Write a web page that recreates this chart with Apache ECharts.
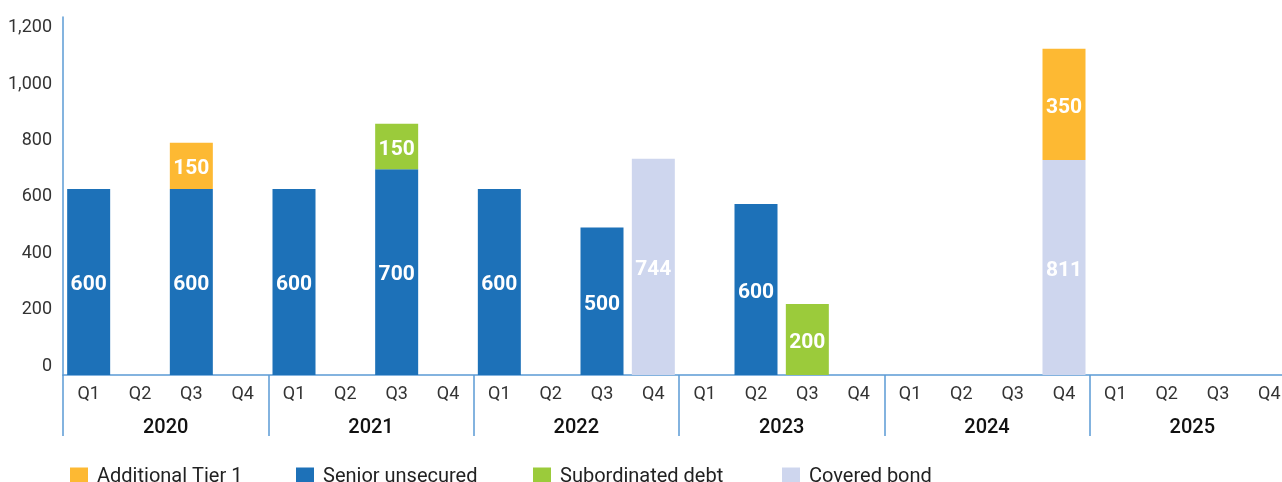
<!DOCTYPE html>
<html>
<head>
<meta charset="utf-8">
<script src="https://cdn.jsdelivr.net/npm/echarts@6/dist/echarts.min.js"></script>
<style>
html,body{margin:0;padding:0;background:#fff;overflow:hidden;width:1282px;height:482px;}
#chart{width:1300px;height:482px;}
</style>
</head>
<body>
<div id="chart"></div>
<script>
const quarters = ['Q1','Q2','Q3','Q4','Q1','Q2','Q3','Q4','Q1','Q2','Q3','Q4','Q1','Q2','Q3','Q4','Q1','Q2','Q3','Q4','Q1','Q2','Q3','Q4'];
const years = ['2020','2021','2022','2023','2024','2025'];
const yTicks = [0,200,400,600,800,1000,1200];

// bar heights as plotted against the axis
const seniorValues  = [660,null,660,null, 660,null,730,null, 660,null,523,null, null,607,null,null, null,null,null,null, null,null,null,null];
const coveredValues = [null,null,null,null, null,null,null,null, null,null,null,767, null,null,null,null, null,null,null,763, null,null,null,null];
const subValues     = [null,null,null,null, null,null,161,null, null,null,null,null, null,null,252,null, null,null,null,null, null,null,null,null];
const at1Values     = [null,null,164,null, null,null,null,null, null,null,null,null, null,null,null,null, null,null,null,394, null,null,null,null];

// printed amounts
const seniorLabels  = ['600','','600','', '600','','700','', '600','','500','', '','600','','', '','','','', '','','',''];
const coveredLabels = ['','','','', '','','','', '','','','744', '','','','', '','','','811', '','','',''];
const subLabels     = ['','','','', '','','150','', '','','','', '','','200','', '','','','', '','','',''];
const at1Labels     = ['','','150','', '','','','', '','','','', '','','','', '','','','350', '','','',''];

const names = ['Additional Tier 1','Senior unsecured','Subordinated debt','Covered bond'];
const colors = {'Additional Tier 1':'#FDB933','Senior unsecured':'#1D71B8','Subordinated debt':'#9BCB3B','Covered bond':'#CED6EE'};

const FONT = 'Roboto';
const AX = '#5B9BD5';

function mkSeries(name, values, labels){
  return {
    name: name, type:'bar', stack:'total', xAxisIndex:0, yAxisIndex:0,
    barWidth: 43,
    itemStyle:{color: colors[name]},
    label:{show:true, position:'inside', offset:[0,3], color:'#fff', fontFamily:FONT, fontWeight:'bold', fontSize:21,
      formatter: p => labels[p.dataIndex]},
    data: values
  };
}

const legendLefts = [65, 291, 528, 777];
const chart = echarts.init(document.getElementById('chart'), null, {renderer:'canvas'});
chart.setOption({
  animation:false,
  grid:{left:63, top:17, width:1232, height:358, containLabel:false},
  legend: names.map((n,i)=>({
    data:[n], left: legendLefts[i], top: 462, itemWidth:18, itemHeight:19, icon:'rect',
    textStyle:{fontFamily:FONT, fontSize:20, color:'#222', padding:[0,0,0,4]}
  })),
  xAxis:[
    {type:'category', data:quarters, gridIndex:0, position:'bottom',
     axisLine:{show:true, lineStyle:{color:AX, width:1.5}},
     axisTick:{show:false},
     axisLabel:{interval:0, margin:10, color:'#333', fontFamily:FONT, fontSize:18}},
    {type:'category', data:years, gridIndex:0, position:'bottom',
     axisLine:{show:false},
     axisTick:{show:true, length:61, alignWithLabel:false, interval:0, lineStyle:{color:AX, width:1.5}},
     axisLabel:{interval:0, margin:43, color:'#111', fontFamily:FONT, fontSize:20, fontWeight:500}}
  ],
  yAxis:{type:'value', min:0, max:1270, interval:200,
    axisLine:{show:true, lineStyle:{color:AX, width:1.5}},
    axisTick:{show:false}, splitLine:{show:false},
    axisLabel:{showMaxLabel:false, margin:11, color:'#333', fontFamily:FONT, fontSize:18, verticalAlign:'bottom',
      formatter: v => yTicks.includes(v) ? v.toLocaleString('en-US') : ''}},
  series:[
    mkSeries('Senior unsecured', seniorValues, seniorLabels),
    mkSeries('Covered bond', coveredValues, coveredLabels),
    mkSeries('Subordinated debt', subValues, subLabels),
    mkSeries('Additional Tier 1', at1Values, at1Labels)
  ]
});
</script>
</body>
</html>
